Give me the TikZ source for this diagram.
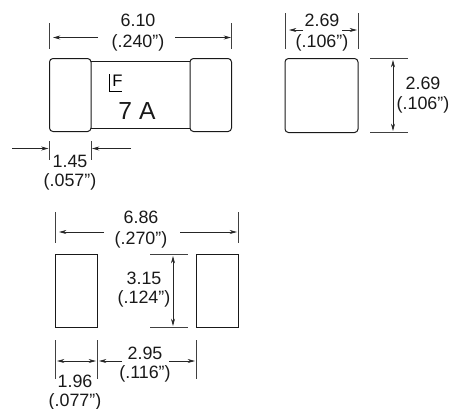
\documentclass[tikz,border=0pt]{standalone}
\usepackage{fontspec}
\setmainfont{Liberation Sans}
\usetikzlibrary{arrows.meta}
\tikzset{
  x=0.75pt,y=-0.75pt,
  outline/.style={draw=black!90,line width=0.75pt},
  rnd/.style={outline,rounded corners=2.6pt},
  tick/.style={draw=black!75,line width=0.5pt},
  dim/.style={draw=black!85,line width=0.5pt,-{Stealth[length=5.5pt,width=3pt]}},
  dimboth/.style={draw=black!85,line width=0.5pt,{Stealth[length=5.5pt,width=3pt]}-{Stealth[length=5.5pt,width=3pt]}},
  lab/.style={inner sep=0pt,font=\fontsize{13.4pt}{14pt}\selectfont,text=black!90},
}
\begin{document}
\begin{tikzpicture}
\useasboundingbox (0,0) rectangle (450,408);
% fuse body
\draw[outline] (91,61.5) -- (190,61.5) (91,128.5) -- (190,128.5);
\draw[rnd] (91,58.5) -- (49.5,58.5) -- (49.5,131.5) -- (91,131.5) -- cycle;
\draw[rnd] (190,58.5) -- (231.5,58.5) -- (231.5,131.5) -- (190,131.5) -- cycle;
\node[lab] (v610) at (138,20) {6.10};
\node[lab] (i240) at (138,43) {(.240")};
\coordinate (a1) at (49.5,23); \coordinate (a1b) at (49.5,49);
\coordinate (a2) at (231.5,23); \coordinate (a2b) at (231.5,49);
\draw[tick] (a1) -- (a1b); \draw[tick] (a2) -- (a2b);
\coordinate (a3) at (98,37.5); \coordinate (a4) at (53,37.5);
\coordinate (a5) at (175,37.5); \coordinate (a6) at (231,37.5);
\draw[dim] (a3) -- (a4); \draw[dim] (a5) -- (a6);
% LF logo
\node[inner sep=0pt,font=\fontsize{12.5pt}{13pt}\selectfont] (lf) at (117.5,80.5) {F};
\draw[line width=0.7pt] (109,74) -- (109,91.5) -- (121.7,91.5);
\node[lab,font=\fontsize{18.5pt}{19pt}\selectfont] (amp) at (137,111) {7 A};
% 1.45
\coordinate (b1) at (49.5,141); \coordinate (b1b) at (49.5,160);
\coordinate (b2) at (91,141); \coordinate (b2b) at (91,160);
\draw[tick] (b1) -- (b1b); \draw[tick] (b2) -- (b2b);
\coordinate (b3) at (12,148.5); \coordinate (b4) at (48.5,148.5);
\coordinate (b5) at (131,148.5); \coordinate (b6) at (92,148.5);
\draw[dim] (b3) -- (b4); \draw[dim] (b5) -- (b6);
\node[lab] (v145) at (70,161) {1.45};
\node[lab] (i057) at (70,182) {(.057")};
% end view
\draw[rnd] (285,58.5) rectangle (358,132.5);
\coordinate (c1) at (285,13); \coordinate (c1b) at (285,49);
\coordinate (c2) at (358,13); \coordinate (c2b) at (358,49);
\draw[tick] (c1) -- (c1b); \draw[tick] (c2) -- (c2b);
\coordinate (c3) at (303,30); \coordinate (c4) at (289,30);
\coordinate (c5) at (342,30); \coordinate (c6) at (357,30);
\draw[dim] (c3) -- (c4); \draw[dim] (c5) -- (c6);
\node[lab] (v269a) at (322,20) {2.69};
\node[lab] (i106a) at (322,43) {(.106")};
\coordinate (d1) at (370,58.5); \coordinate (d1b) at (408,58.5);
\coordinate (d2) at (370,132.5); \coordinate (d2b) at (408,132.5);
\draw[tick] (d1) -- (d1b); \draw[tick] (d2) -- (d2b);
\coordinate (d3) at (393,60); \coordinate (d4) at (393,131);
\draw[dimboth] (d3) -- (d4);
\node[lab] (v269b) at (423,83) {2.69};
\node[lab] (i106b) at (423,105) {(.106")};
% pad layout
\draw[outline] (55,254) rectangle (97,327);
\draw[outline] (196,254) rectangle (238,327);
\coordinate (e1) at (55,212); \coordinate (e1b) at (55,243);
\coordinate (e2) at (238,212); \coordinate (e2b) at (238,243);
\draw[tick] (e1) -- (e1b); \draw[tick] (e2) -- (e2b);
\coordinate (e3) at (104,232); \coordinate (e4) at (59,232);
\coordinate (e5) at (180,232); \coordinate (e6) at (237,232);
\draw[dim] (e3) -- (e4); \draw[dim] (e5) -- (e6);
\node[lab] (v686) at (141,217) {6.86};
\node[lab] (i270) at (141,240) {(.270")};
\coordinate (f1) at (150,254); \coordinate (f1b) at (188,254);
\coordinate (f2) at (150,327.5); \coordinate (f2b) at (188,327.5);
\draw[tick] (f1) -- (f1b); \draw[tick] (f2) -- (f2b);
\coordinate (f3) at (173,256); \coordinate (f4) at (173,326);
\draw[dimboth] (f3) -- (f4);
\node[lab] (v315) at (144,278) {3.15};
\node[lab] (i124) at (144,299) {(.124")};
\coordinate (g1) at (55,340); \coordinate (g1b) at (55,379);
\coordinate (g2) at (97,340); \coordinate (g2b) at (97,379);
\coordinate (g3) at (196,340); \coordinate (g3b) at (196,379);
\draw[tick] (g1) -- (g1b); \draw[tick] (g2) -- (g2b); \draw[tick] (g3) -- (g3b);
\coordinate (g4) at (57,361); \coordinate (g5) at (96,361);
\draw[dimboth] (g4) -- (g5);
\coordinate (g6) at (122,361); \coordinate (g7) at (99,361);
\coordinate (g8) at (169,361); \coordinate (g9) at (195,361);
\draw[dim] (g6) -- (g7); \draw[dim] (g8) -- (g9);
\node[lab] (v196) at (75,381) {1.96};
\node[lab] (i077) at (75,401.5) {(.077")};
\node[lab] (v295) at (145,353) {2.95};
\node[lab] (i116) at (145,374) {(.116")};
\end{tikzpicture}
\end{document}
